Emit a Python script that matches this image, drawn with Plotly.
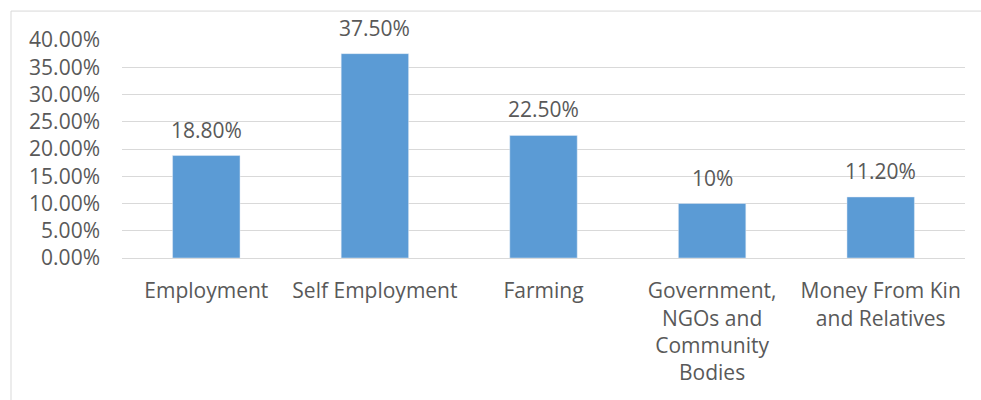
import plotly.graph_objects as go

categories = ["Employment", "Self Employment", "Farming",
              "Government,<br>NGOs and<br>Community<br>Bodies",
              "Money From Kin<br>and Relatives"]
values = [0.188, 0.375, 0.225, 0.10, 0.112]
labels = ["18.80%", "37.50%", "22.50%", "10%", "11.20%"]
y_ticks = [0, 0.05, 0.10, 0.15, 0.20, 0.25, 0.30, 0.35, 0.40]

FONT = "Open Sans"
TXT = "#595959"
FS = 21

fig = go.Figure()
fig.add_trace(go.Bar(x=categories, y=values, marker_color="#5B9BD5",
                     width=0.4, hoverinfo="skip"))

for c, v, t in zip(categories, values, labels):
    fig.add_annotation(x=c, y=v, text=t, showarrow=False, yanchor="bottom",
                       yshift=10, font=dict(family=FONT, size=FS, color=TXT))

L, R, T, B = 122, 965, 40, 258.5
W, H = 981, 400
pw, ph = R - L, B - T
fig.add_shape(type="rect", xref="paper", yref="paper",
              x0=(11 - L) / pw, x1=(1000 - L) / pw,
              y0=(B - 420) / ph, y1=(B - 11) / ph,
              line=dict(color="#D9D9D9", width=1), fillcolor="rgba(0,0,0,0)",
              layer="below")

fig.update_layout(
    width=W, height=H,
    margin=dict(l=L, r=W - R, t=T, b=H - B, pad=0),
    paper_bgcolor="white", plot_bgcolor="white",
    showlegend=False,
    bargap=0.6,
    font=dict(family=FONT, size=FS, color=TXT),
)
fig.update_xaxes(showgrid=False, showline=True, linecolor="#D9D9D9",
                 ticks="", tickfont=dict(family=FONT, size=FS, color=TXT),
                 ticklabelstandoff=14, fixedrange=True)
fig.update_yaxes(range=[0, 0.40], tickvals=y_ticks, tickformat=".2%",
                 showgrid=True, gridcolor="#D9D9D9", gridwidth=1,
                 zeroline=False, showline=False, ticks="",
                 tickfont=dict(family=FONT, size=FS, color=TXT),
                 ticklabelstandoff=21, fixedrange=True)

fig.write_html("out.html")
